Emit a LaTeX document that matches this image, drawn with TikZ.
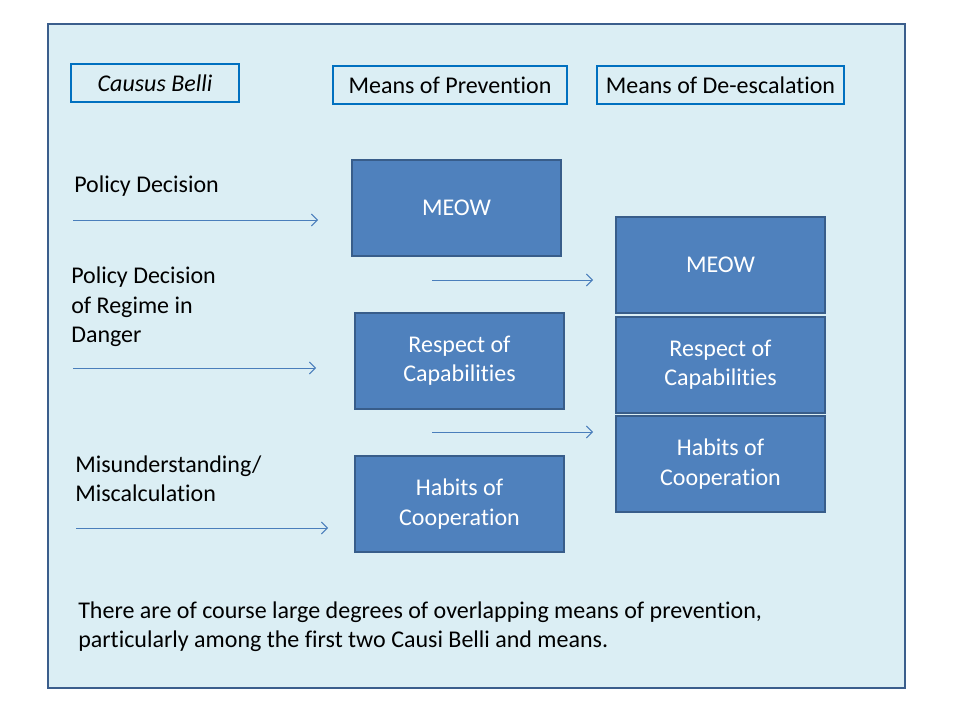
\documentclass[tikz,border=0pt]{standalone}
\usepackage{fontspec}
\setmainfont[Ligatures={NoCommon}]{Carlito}
\usetikzlibrary{arrows.meta}
\definecolor{bgfill}{HTML}{DBEEF4}
\definecolor{bgline}{HTML}{3B5E8C}
\definecolor{hdrline}{HTML}{0070C0}
\definecolor{boxfill}{HTML}{4F81BD}
\definecolor{boxline}{HTML}{385D8A}
\definecolor{arrcol}{HTML}{4A7EBB}
\tikzset{
  frame/.style={draw=bgline, fill=bgfill, line width=2.2pt},
  hdr/.style={draw=hdrline, line width=0.8pt, inner sep=0pt, font=\fontsize{18pt}{22pt}\selectfont},
  bluebox/.style={draw=boxline, fill=boxfill, line width=1.6pt, inner sep=0pt, text=white, align=center,
     font=\fontsize{18pt}{22pt}\selectfont},
  lbl/.style={anchor=west, align=left, inner sep=0pt, font=\fontsize{18pt}{22pt}\selectfont},
  flow/.style={draw=arrcol, line width=0.7pt, -{Straight Barb[length=4.5pt,width=9pt]}},
}
\begin{document}
\begin{tikzpicture}[x=0.75pt,y=-0.75pt]
\useasboundingbox (0,0) rectangle (960,720);
\draw[frame] (48,24) rectangle (905,688);
% headers
\node[hdr, minimum width=168*0.75pt, minimum height=38*0.75pt] (h1) at (155,83) {\itshape Causus Belli};
\node[hdr, minimum width=234*0.75pt, minimum height=38*0.75pt] (h2) at (450,85) {Means of Prevention};
\node[hdr, minimum width=247*0.75pt, minimum height=38*0.75pt] (h3) at (720.5,85) {Means of De-escalation};
% left labels
\node[lbl] (l1) at (74,186) {Policy Decision};
\node[lbl] (l2) at (71,307) {Policy Decision\\of Regime in\\Danger};
\node[lbl] (l3) at (75,479) {Misunderstanding/\\Miscalculation};
% prevention boxes
\node[bluebox, minimum width=209*0.75pt, minimum height=96*0.75pt] (p1) at (456.5,208) {MEOW};
\node[bluebox, minimum width=209*0.75pt, minimum height=96*0.75pt] (p2) at (459.5,361) {Respect of\\Capabilities};
\node[bluebox, minimum width=209*0.75pt, minimum height=96*0.75pt] (p3) at (459.5,504) {Habits of\\Cooperation};
% de-escalation boxes
\node[bluebox, minimum width=209*0.75pt, minimum height=96*0.75pt] (d1) at (720.5,265) {MEOW};
\node[bluebox, minimum width=209*0.75pt, minimum height=96*0.75pt] (d2) at (720.5,365) {Respect of\\Capabilities};
\node[bluebox, minimum width=209*0.75pt, minimum height=96*0.75pt] (d3) at (720.5,464) {Habits of\\Cooperation};
% arrow endpoints
\coordinate (a1s) at (73,220);  \coordinate (a1e) at (318,220);
\coordinate (a2s) at (432,280); \coordinate (a2e) at (593,280);
\coordinate (a3s) at (73,368);  \coordinate (a3e) at (316,368);
\coordinate (a4s) at (432,432); \coordinate (a4e) at (593,432);
\coordinate (a5s) at (76,528);  \coordinate (a5e) at (328,528);
\draw[flow] (a1s) -- (a1e);
\draw[flow] (a2s) -- (a2e);
\draw[flow] (a3s) -- (a3e);
\draw[flow] (a4s) -- (a4e);
\draw[flow] (a5s) -- (a5e);
% bottom note
\node[lbl] (note) at (78,626.5) {There are of course large degrees of overlapping means of prevention,\\particularly among the first two Causi Belli and means.};
\end{tikzpicture}
\end{document}
